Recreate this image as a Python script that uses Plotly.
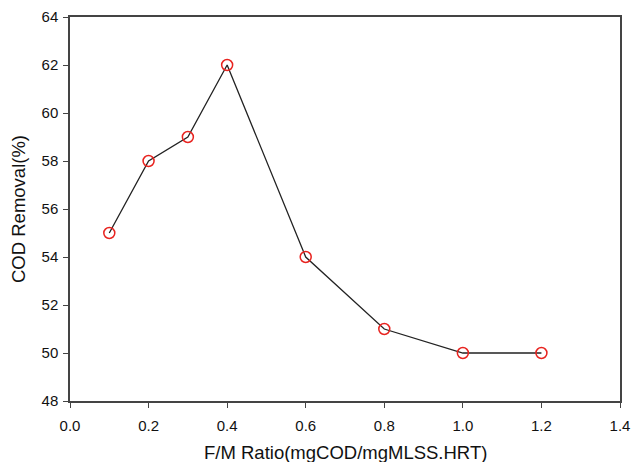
import plotly.graph_objects as go

fm_ratio = [0.1, 0.2, 0.3, 0.4, 0.6, 0.8, 1.0, 1.2]
cod_removal = [55, 58, 59, 62, 54, 51, 50, 50]
x_ticks = [0.0, 0.2, 0.4, 0.6, 0.8, 1.0, 1.2, 1.4]
y_ticks = [48, 50, 52, 54, 56, 58, 60, 62, 64]
x_title = "F/M Ratio(mgCOD/mgMLSS.HRT)"
y_title = "COD Removal(%)"

fig = go.Figure()
fig.add_trace(go.Scatter(
    x=fm_ratio, y=cod_removal, mode="lines+markers",
    line=dict(color="#222222", width=1.3),
    marker=dict(symbol="circle-open", size=11, color="#e8231f", line=dict(width=1.5, color="#e8231f")),
    showlegend=False,
))

font_family = "Arial, Liberation Sans"
axis_common = dict(
    showgrid=False, zeroline=False, showline=True, linecolor="#444444", linewidth=1.5,
    mirror=True, ticks="outside", ticklen=5, tickwidth=1.2, tickcolor="#444444",
    tickfont=dict(family=font_family, size=15, color="#111111"), automargin=False,
)
fig.update_xaxes(range=[0, 1.4], tickvals=x_ticks, ticktext=[f"{v:.1f}" for v in x_ticks],
                 ticklabelstandoff=5, **axis_common)
fig.update_yaxes(range=[48, 64], tickvals=y_ticks, ticklabelstandoff=2, **axis_common)

fig.add_annotation(text=x_title, xref="paper", yref="paper", x=0.5, y=0,
                   xanchor="center", yanchor="middle", yshift=-51, showarrow=False,
                   font=dict(family=font_family, size=18.5, color="#111111"))
fig.add_annotation(text=y_title, xref="paper", yref="paper", x=0, y=0.5,
                   xanchor="center", yanchor="middle", xshift=-52, textangle=-90, showarrow=False,
                   font=dict(family=font_family, size=18.5, color="#111111"))

fig.update_layout(
    width=632, height=462, margin=dict(l=70, r=12, t=17, b=61),
    plot_bgcolor="white", paper_bgcolor="white",
)
fig.write_html("out.html")
